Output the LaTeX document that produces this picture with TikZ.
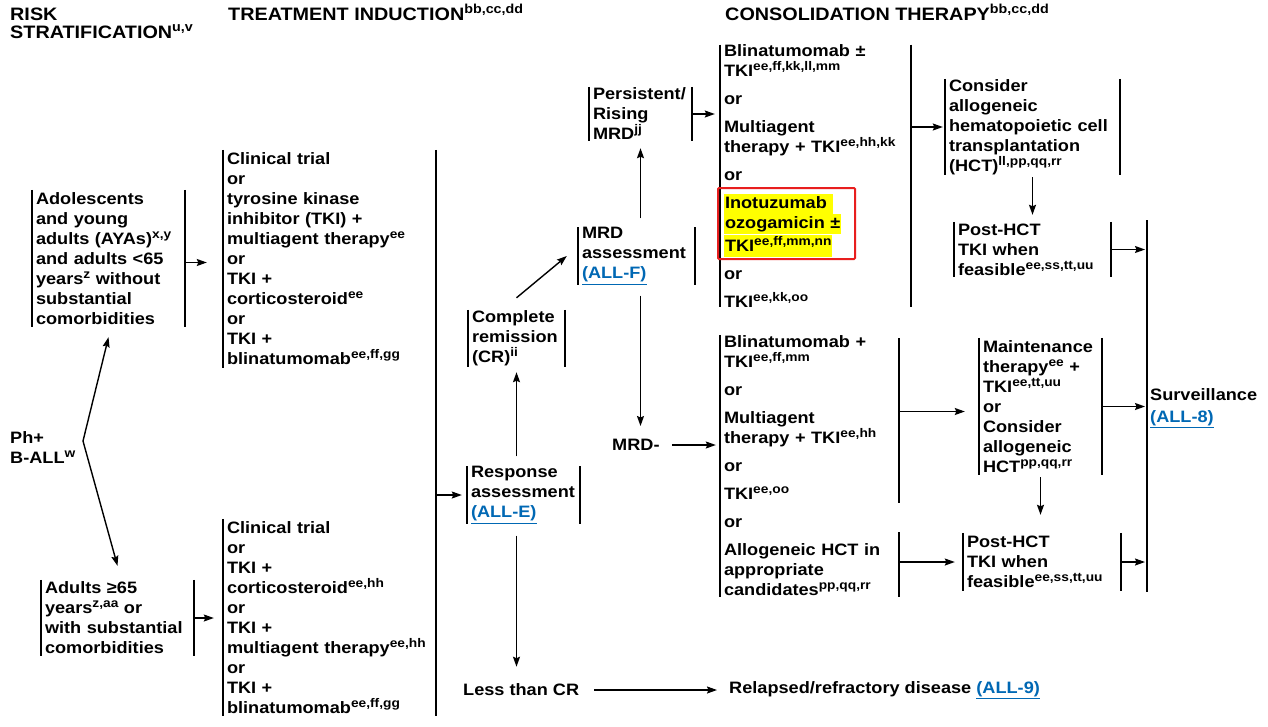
\documentclass[tikz,border=0pt]{standalone}
\usepackage{fontspec}
\setmainfont{Liberation Sans}[FakeStretch=1.1]
\usetikzlibrary{arrows.meta,calc}
\definecolor{lnkblue}{RGB}{0,104,180}
\definecolor{hlyellow}{RGB}{255,255,0}
\definecolor{redbox}{RGB}{232,30,30}
\newcommand\supx[1]{\raisebox{6pt}{\fontsize{12.5}{13}\selectfont #1}}
\newcommand\hsupx[1]{\raisebox{6.5pt}{\fontsize{13}{14}\selectfont #1}}
\newcommand\lnk[1]{{\color{lnkblue}\underline{#1}}}
\newcommand\hlt[1]{{\setlength{\fboxsep}{1pt}\colorbox{hlyellow}{\rule[-4.5pt]{0pt}{18pt}#1}}}
\newcommand\mkbox[6]{%
  \pgfmathsetmacro\mkbw{#4-#2-8}\pgfmathsetmacro\mkbh{#5-#3}%
  \node[box,text width=\mkbw pt,minimum height=\mkbh pt] (#1) at ({(#2+#4)/2},{(#3+#5)/2}) {#6};}
\newcommand\lbar[1]{\draw[bar] (#1.north west) -- (#1.south west);}
\newcommand\rbar[1]{\draw[bar] (#1.north east) -- (#1.south east);}
\tikzset{
  txt/.style={font=\fontsize{16.5}{20}\selectfont\bfseries, inner sep=0pt, align=left},
  box/.style={txt, inner xsep=4pt, inner ysep=0pt, anchor=center},
  bar/.style={line width=1.5pt},
  arr/.style={line width=1.4pt, -{Stealth[length=10pt,width=7pt,inset=1.5pt]}},
  hdr/.style={font=\fontsize{18}{20}\selectfont\bfseries, inner sep=0pt, anchor=base west},
}
\begin{document}
\begin{tikzpicture}[x=1pt,y=-1pt]
\useasboundingbox (0,0) rectangle (1268,726);
\fill[white] (0,0) rectangle (1268,726);

% headers
\node[hdr] (h1a) at (10,20) {RISK};
\node[hdr] (h1b) at (10,38) {STRATIFICATION\hsupx{u,v}};
\node[hdr] (h2) at (228,20) {TREATMENT INDUCTION\hsupx{bb,cc,dd}};
\node[hdr] (h3) at (725,20) {CONSOLIDATION THERAPY\hsupx{bb,cc,dd}};

% risk stratification
\node[txt,anchor=west] (ph) at (10,448) {Ph+\\ B-ALL\supx{w}};
\mkbox{aya}{32}{190}{185}{327}{Adolescents\\ and young\\ adults (AYAs)\supx{x,y}\\ and adults <65\\ years\supx{z} without\\ substantial\\ comorbidities}
\lbar{aya}\rbar{aya}
\mkbox{old}{41}{580}{194}{656}{Adults ≥65\\ years\supx{z,aa} or\\ with substantial\\ comorbidities}
\lbar{old}\rbar{old}
\coordinate (br) at (83,441);
\draw[arr] (br) -- ($(aya.south)+(0,10)$);
\draw[arr] (br) -- ($(old.north)+(0,-14)$);

% induction
\mkbox{ind1}{223}{150}{436}{368}{Clinical trial\\ or\\ tyrosine kinase\\ inhibitor (TKI) +\\ multiagent therapy\supx{ee}\\ or\\ TKI +\\ corticosteroid\supx{ee}\\ or\\ TKI +\\ blinatumomab\supx{ee,ff,gg}}
\lbar{ind1}
\mkbox{ind2}{223}{519}{436}{716}{Clinical trial\\ or\\ TKI +\\ corticosteroid\supx{ee,hh}\\ or\\ TKI +\\ multiagent therapy\supx{ee,hh}\\ or\\ TKI +\\ blinatumomab\supx{ee,ff,gg}}
\lbar{ind2}
\draw[bar] (ind1.north east) -- (ind2.south east);
\draw[arr,shorten >=16pt] ($(aya.east)+(0,4)$) -- ($(aya.east -| ind1.west)+(0,4)$);
\draw[arr,shorten >=9pt] (old.east) -- (old.east -| ind2.west);

% response
\mkbox{resp}{467}{467}{580}{523}{Response\\ assessment\\ \lnk{(ALL-E)}}
\lbar{resp}\rbar{resp}
\draw[arr,shorten >=5pt] (ind1.east |- resp.west) -- (resp.west);
\mkbox{cr}{468}{310}{565}{367}{Complete\\ remission\\ (CR)\supx{ii}}
\lbar{cr}\rbar{cr}
\draw[arr] ($(cr.south |- resp.north)+(0,-10)$) -- ($(cr.south)+(0,5)$);
\node[txt,anchor=west] (less) at (463,690) {Less than CR};
\node[txt,anchor=west] (rel) at (729,690) {Relapsed/refractory disease \lnk{(ALL-9)}};
\draw[arr] ($(cr.south |- resp.south)+(0,12)$) -- ($(cr.south |- less.north)+(0,-17)$);
\draw[arr] ($(less.east)+(15,0)$) -- ($(rel.west)+(-12,0)$);

% MRD
\mkbox{mrdA}{578}{228}{695}{284}{MRD\\ assessment\\ \lnk{(ALL-F)}}
\lbar{mrdA}\rbar{mrdA}
\draw[arr] ($(cr.north)+(0,-12)$) -- ($(mrdA.west)+(-11,0)$);
\mkbox{pers}{589}{87}{692}{141}{Persistent/\\ Rising\\ MRD\supx{jj}}
\lbar{pers}\rbar{pers}
\draw[arr] ($(pers.south |- mrdA.north)+(0,-9)$) -- ($(pers.south)+(0,7)$);
\node[txt,anchor=west] (mrdneg) at (612,445) {MRD-};
\draw[arr] ($(pers.south |- mrdA.south)+(0,11)$) -- ($(pers.south |- mrdneg.center)+(0,-19)$);

% consolidation upper
\mkbox{cons1}{720}{45}{911}{307}{Blinatumomab ±\\ TKI\supx{ee,ff,kk,ll,mm}\\[8pt] or\\[8pt] Multiagent\\ therapy + TKI\supx{ee,hh,kk}\\[8pt] or\\[8pt] \hlt{Inotuzumab\ }\\ \hlt{ozogamicin ±}\\ \hlt{TKI\supx{ee,ff,mm,nn}}\\[8pt] or\\[8pt] TKI\supx{ee,kk,oo}}
\lbar{cons1}\rbar{cons1}
\draw[redbox,line width=2pt,rounded corners=1pt] (718,188) rectangle (855,259);
\draw[arr,shorten >=5pt] (pers.east) -- (pers.east -| cons1.west);

\mkbox{hct}{945}{79}{1120}{175}{Consider\\ allogeneic\\ hematopoietic cell\\ transplantation\\ (HCT)\supx{ll,pp,qq,rr}}
\lbar{hct}\rbar{hct}
\draw[arr,shorten >=2pt] (cons1.east |- hct.west) -- (hct.west);
\mkbox{post1}{954}{222}{1111}{277}{Post-HCT\\ TKI when\\ feasible\supx{ee,ss,tt,uu}}
\lbar{post1}\rbar{post1}
\draw[arr] ($(hct.south)+(0,2)$) -- ($(hct.south |- post1.north)+(0,-7)$);

% surveillance
\coordinate (svT) at (1147,220);
\coordinate (svB) at (1147,592);
\draw[bar] (svT) -- (svB);
\node[txt,anchor=west,inner xsep=3pt] (surv) at (1147,408) {Surveillance\\[2pt] \lnk{(ALL-8)}};
\draw[arr,shorten >=2pt] (post1.east) -- (post1.east -| svT);

% consolidation lower
\mkbox{cons2}{720}{335}{899}{597}{Blinatumomab +\\ TKI\supx{ee,ff,mm}\\[8pt] or\\[8pt] Multiagent\\ therapy + TKI\supx{ee,hh}\\[8pt] or\\[8pt] TKI\supx{ee,oo}\\[8pt] or\\[8pt] Allogeneic HCT in\\ appropriate\\ candidates\supx{pp,qq,rr}}
\lbar{cons2}
\draw[bar] (cons2.east |- 0,338) -- (cons2.east |- 0,503);
\draw[bar] (cons2.east |- 0,532) -- (cons2.east |- 0,597);
\draw[arr] ($(mrdneg.east)+(12,0)$) -- ($(mrdneg.east -| cons2.west)+(-4,0)$);

\mkbox{maint}{979}{338}{1102}{475}{Maintenance\\ therapy\supx{ee} +\\ TKI\supx{ee,tt,uu}\\ or\\ Consider\\ allogeneic\\ HCT\supx{pp,qq,rr}}
\lbar{maint}\rbar{maint}
\draw[arr,shorten >=14pt] ($(cons2.east |- maint.west)+(0,5)$) -- ($(maint.west)+(0,5)$);
\draw[arr,shorten >=2pt] (maint.east) -- (maint.east -| svT);
\mkbox{post2}{963}{533}{1121}{591}{Post-HCT\\ TKI when\\ feasible\supx{ee,ss,tt,uu}}
\lbar{post2}\rbar{post2}
\draw[arr,shorten >=8pt] (cons2.east |- post2.west) -- (post2.west);
\draw[arr,shorten >=2pt] (post2.east) -- (post2.east -| svT);
\draw[arr] ($(maint.south)+(0,2)$) -- ($(maint.south |- post2.north)+(0,-18)$);
\end{tikzpicture}
\end{document}
